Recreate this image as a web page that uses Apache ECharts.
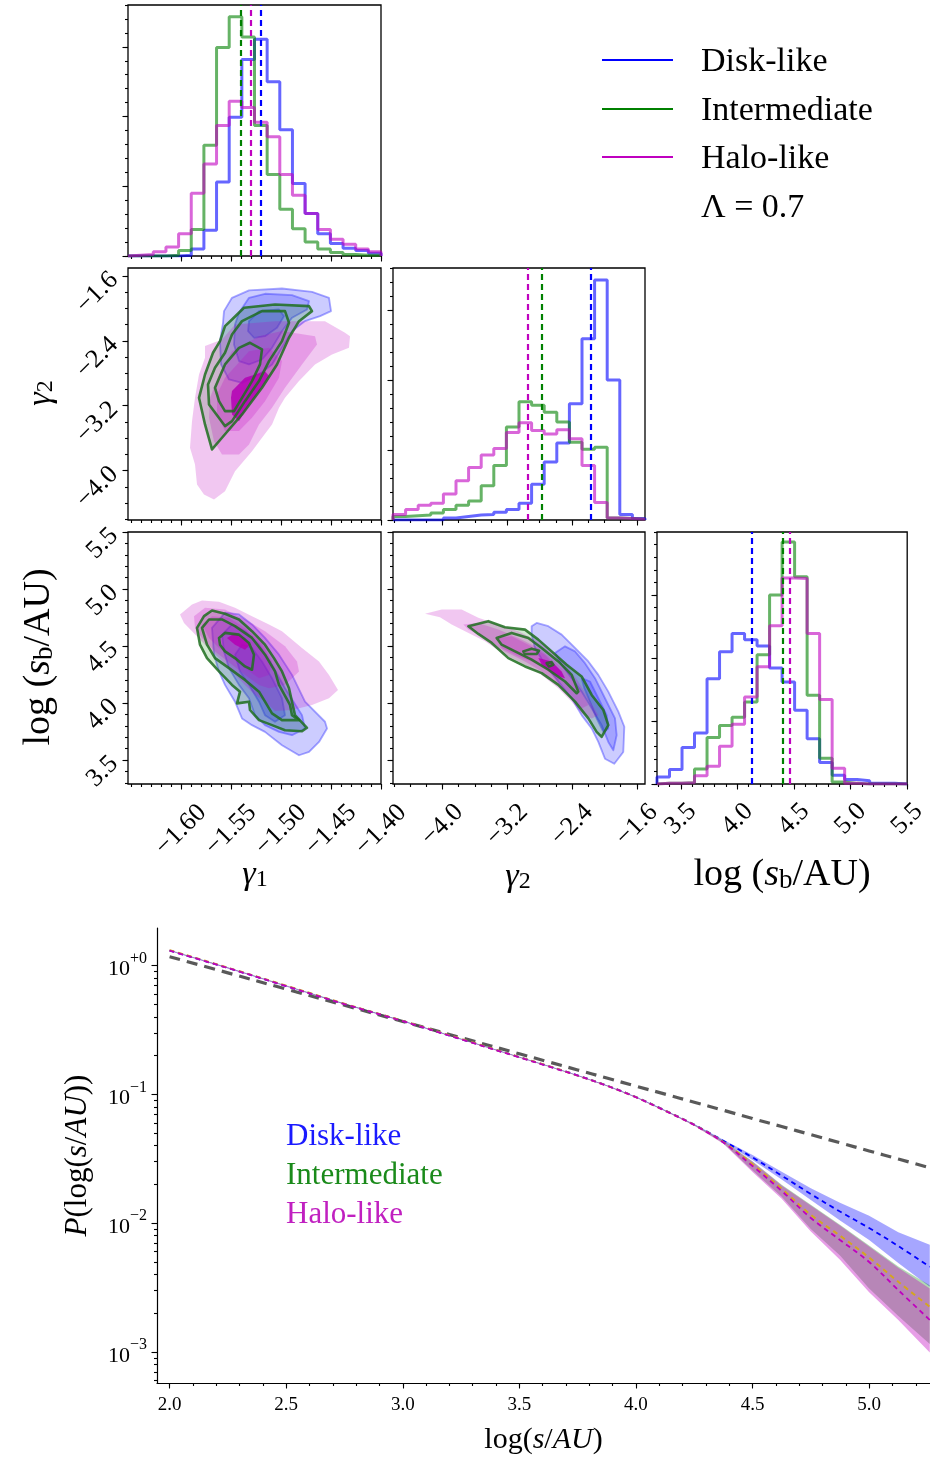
<!DOCTYPE html>
<html><head><meta charset="utf-8">
<script src="https://cdn.jsdelivr.net/npm/echarts@6/dist/echarts.min.js"></script>
<style>html,body{margin:0;padding:0;background:#fff}#c{width:930px;height:1458px}</style>
</head><body><div id="c"></div>
<script>
const FONT = '"Liberation Serif","DejaVu Serif",serif';
const BLUE = '#0000ff', GREEN = '#008000', MAG = '#bf00bf';
const MINUS = '\u2212';

// ---- axis ranges ----
const G1_RANGE = [-1.653, -1.40];
const G2_RANGE = [-4.61, -1.50];
const SB_RANGE = [3.29, 5.5];
const H_TOP_MAX = 3.6, H_MID_MAX = 3.6, H_SB_MAX = 4.0;

// ---- tick labels ----
const g1Ticks = [-1.60, -1.55, -1.50, -1.45, -1.40];
const g2Ticks = [-4.0, -3.2, -2.4, -1.6];
const sbTicks = [3.5, 4.0, 4.5, 5.0, 5.5];
const histTicks = [0, 1, 2, 3];

// ---- histograms (20 bins spanning axis range) ----
const histG1Blue  = [0,0,0,0,0.01,0.10,0.37,1.06,1.99,2.82,3.11,2.50,1.81,1.04,0.61,0.32,0.18,0.11,0.08,0.04];
const histG1Green = [0,0,0,0.01,0.08,0.38,1.59,2.99,3.43,3.14,1.87,1.17,0.67,0.39,0.20,0.10,0.05,0.02,0.01,0.01];
const histG1Mag   = [0.01,0.02,0.06,0.13,0.32,0.90,1.32,1.87,2.22,2.13,1.92,1.71,1.17,0.87,0.61,0.38,0.24,0.17,0.10,0.06];
const histG2Blue  = [0,0,0,0,0.03,0.05,0.07,0.08,0.11,0.15,0.24,0.51,0.83,1.10,1.66,2.59,3.43,2.00,0.08,0.02];
const histG2Green = [0.05,0.06,0.07,0.10,0.15,0.21,0.27,0.49,0.78,1.33,1.69,1.64,1.54,1.40,1.11,1.01,1.04,0.03,0.02,0.01];
const histG2Mag   = [0.08,0.15,0.21,0.24,0.37,0.56,0.75,0.93,1.02,1.25,1.39,1.28,1.23,1.29,1.16,0.78,0.25,0.03,0.02,0.01];
const histSbBlue  = [0.11,0.23,0.58,0.81,1.67,2.10,2.39,2.29,2.19,1.84,1.62,1.17,0.72,0.34,0.14,0.07,0.05,0.01,0.01,0];
const histSbGreen = [0.01,0.01,0.02,0.24,0.74,0.93,1.06,1.30,2.05,3.00,3.84,3.29,1.41,0.41,0.03,0.01,0,0,0,0];
const histSbMag   = [0.01,0.01,0.02,0.13,0.28,0.60,0.95,1.38,1.86,2.51,3.27,3.26,2.39,1.34,0.25,0.01,0,0,0,0];

// medians (dashed lines)
const medG1 = {blue: -1.5183, green: -1.539, mag: -1.5297};
const medG2 = {blue: -2.173, green: -2.776, mag: -2.952};
const medSb = {blue: 4.126, green: 4.397, mag: 4.455};

// ---- 2D contours: gamma1 vs gamma2 ----
const ggMag1 = [[-1.576,-2.464],[-1.559,-2.382],[-1.546,-2.197],[-1.506,-2.156],[-1.456,-2.156],[-1.436,-2.300],[-1.431,-2.341],[-1.432,-2.485],[-1.449,-2.567],[-1.466,-2.690],[-1.482,-2.896],[-1.496,-3.102],[-1.502,-3.225],[-1.509,-3.431],[-1.519,-3.595],[-1.529,-3.760],[-1.546,-4.007],[-1.556,-4.254],[-1.567,-4.356],[-1.577,-4.295],[-1.584,-4.171],[-1.586,-3.924],[-1.591,-3.719],[-1.589,-3.390],[-1.586,-3.102],[-1.582,-2.814],[-1.576,-2.608]];
const ggMag2 = [[-1.562,-2.814],[-1.549,-2.526],[-1.522,-2.341],[-1.499,-2.279],[-1.466,-2.341],[-1.464,-2.444],[-1.479,-2.690],[-1.496,-2.978],[-1.509,-3.225],[-1.522,-3.431],[-1.532,-3.678],[-1.542,-3.801],[-1.559,-3.801],[-1.567,-3.637],[-1.572,-3.349],[-1.571,-3.102]];
const ggMag3 = [[-1.556,-2.855],[-1.532,-2.526],[-1.512,-2.485],[-1.499,-2.649],[-1.502,-2.855],[-1.516,-3.143],[-1.529,-3.349],[-1.542,-3.513],[-1.556,-3.513],[-1.564,-3.307],[-1.564,-3.061]];
const ggMag4 = [[-1.549,-3.019],[-1.536,-2.855],[-1.516,-2.773],[-1.512,-2.834],[-1.522,-3.019],[-1.532,-3.184],[-1.542,-3.390],[-1.549,-3.307],[-1.550,-3.102]];
const ggBlue1 = [[-1.557,-2.032],[-1.549,-1.868],[-1.532,-1.777],[-1.499,-1.753],[-1.469,-1.794],[-1.452,-1.868],[-1.450,-2.032],[-1.461,-2.094],[-1.476,-2.156],[-1.489,-2.279],[-1.499,-2.485],[-1.509,-2.690],[-1.522,-2.814],[-1.539,-2.917],[-1.552,-2.876],[-1.560,-2.690],[-1.561,-2.402],[-1.558,-2.176]];
const ggBlue2 = [[-1.542,-2.053],[-1.532,-1.868],[-1.516,-1.818],[-1.489,-1.835],[-1.472,-1.909],[-1.474,-2.012],[-1.489,-2.115],[-1.499,-2.279],[-1.509,-2.485],[-1.519,-2.629],[-1.532,-2.690],[-1.542,-2.649],[-1.547,-2.444],[-1.546,-2.197]];
const ggBlue3 = [[-1.532,-2.156],[-1.522,-2.032],[-1.502,-2.012],[-1.497,-2.094],[-1.504,-2.238],[-1.516,-2.341],[-1.527,-2.361],[-1.533,-2.279]];
const ggGreen1 = [[-1.556,-2.217],[-1.549,-2.135],[-1.537,-1.991],[-1.506,-1.950],[-1.472,-1.971],[-1.469,-2.032],[-1.482,-2.156],[-1.492,-2.361],[-1.504,-2.690],[-1.519,-2.978],[-1.539,-3.307],[-1.559,-3.595],[-1.569,-3.739],[-1.576,-3.431],[-1.582,-3.102],[-1.576,-2.814],[-1.568,-2.546],[-1.561,-2.402]];
const ggGreen2 = [[-1.556,-3.451],[-1.572,-3.184],[-1.573,-2.937],[-1.566,-2.732],[-1.556,-2.546],[-1.549,-2.320],[-1.539,-2.156],[-1.519,-2.032],[-1.496,-2.032],[-1.492,-2.176],[-1.499,-2.402],[-1.512,-2.649],[-1.522,-2.896],[-1.536,-3.143],[-1.549,-3.390]];
const ggGreen3 = [[-1.566,-2.978],[-1.556,-2.690],[-1.542,-2.485],[-1.531,-2.423],[-1.519,-2.505],[-1.521,-2.690],[-1.529,-2.896],[-1.539,-3.102],[-1.547,-3.266],[-1.556,-3.266],[-1.562,-3.143]];

// ---- gamma1 vs log sb ----
const gsMag1 = [[-1.601,4.777],[-1.589,4.865],[-1.579,4.900],[-1.562,4.889],[-1.546,4.836],[-1.529,4.762],[-1.512,4.689],[-1.499,4.630],[-1.479,4.483],[-1.462,4.365],[-1.452,4.247],[-1.443,4.115],[-1.452,4.042],[-1.469,3.983],[-1.489,3.939],[-1.506,3.930],[-1.516,4.012],[-1.526,4.071],[-1.536,4.159],[-1.549,4.277],[-1.562,4.394],[-1.576,4.512],[-1.589,4.630],[-1.597,4.703]];
const gsMag2 = [[-1.587,4.762],[-1.576,4.836],[-1.556,4.821],[-1.536,4.733],[-1.516,4.630],[-1.496,4.497],[-1.484,4.365],[-1.482,4.277],[-1.496,4.159],[-1.512,4.130],[-1.522,4.159],[-1.536,4.247],[-1.549,4.336],[-1.566,4.453],[-1.579,4.571],[-1.586,4.659]];
const gsMag3 = [[-1.579,4.689],[-1.569,4.762],[-1.552,4.747],[-1.536,4.659],[-1.519,4.527],[-1.509,4.365],[-1.512,4.247],[-1.522,4.218],[-1.536,4.306],[-1.549,4.394],[-1.562,4.483],[-1.572,4.571]];
const gsMag4 = [[-1.554,4.571],[-1.546,4.615],[-1.536,4.571],[-1.531,4.512],[-1.536,4.468],[-1.546,4.512]];
const gsBlue1 = [[-1.569,4.659],[-1.556,4.792],[-1.542,4.777],[-1.529,4.689],[-1.516,4.571],[-1.502,4.424],[-1.489,4.247],[-1.476,4.012],[-1.456,3.836],[-1.454,3.777],[-1.462,3.659],[-1.472,3.571],[-1.482,3.542],[-1.499,3.630],[-1.516,3.747],[-1.529,3.806],[-1.539,3.865],[-1.546,4.012],[-1.556,4.159],[-1.562,4.277],[-1.567,4.424]];
const gsBlue2 = [[-1.559,4.600],[-1.549,4.689],[-1.536,4.630],[-1.522,4.512],[-1.509,4.336],[-1.496,4.130],[-1.479,3.894],[-1.476,3.777],[-1.489,3.718],[-1.502,3.747],[-1.516,3.806],[-1.526,3.894],[-1.532,4.042],[-1.542,4.159],[-1.552,4.306],[-1.557,4.453]];
const gsBlue3 = [[-1.546,4.424],[-1.539,4.512],[-1.529,4.483],[-1.519,4.365],[-1.509,4.218],[-1.499,4.042],[-1.496,3.894],[-1.506,3.836],[-1.516,3.894],[-1.522,4.012],[-1.532,4.159],[-1.541,4.277]];
const gsGreen1 = [[-1.584,4.659],[-1.577,4.762],[-1.569,4.812],[-1.556,4.783],[-1.542,4.733],[-1.529,4.630],[-1.516,4.512],[-1.507,4.394],[-1.499,4.277],[-1.492,4.130],[-1.489,4.012],[-1.486,3.894],[-1.474,3.783],[-1.479,3.753],[-1.496,3.762],[-1.509,3.806],[-1.522,3.850],[-1.531,3.939],[-1.532,4.012],[-1.544,3.997],[-1.541,4.100],[-1.549,4.159],[-1.562,4.277],[-1.574,4.394],[-1.581,4.512]];
const gsGreen2 = [[-1.579,4.659],[-1.572,4.733],[-1.559,4.733],[-1.546,4.674],[-1.529,4.571],[-1.516,4.424],[-1.506,4.277],[-1.502,4.159],[-1.491,3.983],[-1.489,3.894],[-1.482,3.850],[-1.499,3.850],[-1.509,3.909],[-1.516,4.012],[-1.522,4.100],[-1.536,4.203],[-1.552,4.306],[-1.566,4.394],[-1.574,4.512]];
const gsGreen3 = [[-1.562,4.571],[-1.556,4.615],[-1.542,4.600],[-1.532,4.527],[-1.527,4.424],[-1.529,4.292],[-1.536,4.321],[-1.546,4.394],[-1.556,4.453],[-1.561,4.512]];

// ---- gamma2 vs log sb ----
const tsMag1 = [[-4.215,4.783],[-4.009,4.821],[-3.763,4.821],[-3.557,4.747],[-3.310,4.689],[-3.063,4.630],[-2.817,4.542],[-2.611,4.424],[-2.446,4.306],[-2.323,4.189],[-2.199,4.042],[-2.076,3.894],[-2.158,3.865],[-2.282,3.909],[-2.405,4.012],[-2.570,4.130],[-2.775,4.247],[-2.981,4.336],[-3.228,4.424],[-3.475,4.542],[-3.721,4.630],[-3.886,4.689],[-4.030,4.753]];
const tsMag2 = [[-3.742,4.689],[-3.557,4.703],[-3.310,4.644],[-3.063,4.571],[-2.817,4.483],[-2.611,4.365],[-2.426,4.247],[-2.282,4.100],[-2.199,3.983],[-2.282,3.953],[-2.405,4.042],[-2.570,4.159],[-2.775,4.277],[-2.981,4.365],[-3.228,4.453],[-3.475,4.571],[-3.680,4.644]];
const tsMag3 = [[-3.310,4.571],[-3.146,4.586],[-2.940,4.512],[-2.734,4.424],[-2.570,4.306],[-2.487,4.218],[-2.570,4.203],[-2.734,4.306],[-2.899,4.365],[-3.063,4.409],[-3.269,4.483]];
const tsMag4 = [[-2.817,4.394],[-2.652,4.365],[-2.529,4.277],[-2.487,4.218],[-2.611,4.247],[-2.775,4.336]];
const tsBlue1 = [[-2.899,4.674],[-2.837,4.703],[-2.693,4.674],[-2.529,4.600],[-2.364,4.483],[-2.199,4.365],[-2.076,4.247],[-1.953,4.100],[-1.829,3.924],[-1.755,3.792],[-1.768,3.571],[-1.879,3.468],[-1.994,3.512],[-2.076,3.659],[-2.158,3.777],[-2.282,3.894],[-2.405,4.042],[-2.570,4.189],[-2.734,4.336],[-2.858,4.483],[-2.899,4.600]];
const tsBlue2 = [[-2.611,4.439],[-2.487,4.497],[-2.364,4.453],[-2.241,4.350],[-2.117,4.218],[-1.994,4.042],[-1.870,3.865],[-1.850,3.718],[-1.891,3.586],[-1.953,3.659],[-2.035,3.806],[-2.158,3.953],[-2.282,4.100],[-2.405,4.218],[-2.529,4.336]];
const tsBlue3 = [[-2.282,4.218],[-2.179,4.189],[-2.076,4.042],[-1.973,3.894],[-1.953,3.777],[-2.014,3.747],[-2.097,3.865],[-2.179,4.012],[-2.249,4.130]];
const tsGreen1 = [[-3.680,4.674],[-3.434,4.718],[-3.228,4.665],[-2.981,4.644],[-2.817,4.556],[-2.652,4.453],[-2.467,4.336],[-2.282,4.233],[-2.158,4.071],[-2.014,3.939],[-1.953,3.806],[-2.035,3.703],[-2.097,3.747],[-2.199,3.865],[-2.364,4.012],[-2.570,4.159],[-2.775,4.262],[-2.981,4.321],[-3.187,4.394],[-3.392,4.527],[-3.557,4.606]];
const tsGreen2 = [[-3.331,4.571],[-3.146,4.615],[-2.940,4.571],[-2.775,4.483],[-2.570,4.365],[-2.405,4.247],[-2.323,4.100],[-2.343,4.086],[-2.487,4.189],[-2.693,4.292],[-2.899,4.380],[-3.104,4.453],[-3.269,4.512]];
const tsGreen3 = [[-3.002,4.453],[-2.899,4.477],[-2.808,4.459],[-2.837,4.430],[-2.981,4.430]];
const tsGreen4 = [[-2.714,4.350],[-2.652,4.359],[-2.631,4.336],[-2.685,4.321]];

// ---- bottom panel: P(log s) ----
const sepX     = [2.0, 2.25, 2.5, 2.75, 3.0, 3.25, 3.5, 3.625, 3.75, 3.875, 4.0, 4.125, 4.25, 4.375, 4.5, 4.625, 4.75, 4.875, 5.0, 5.125, 5.26];
const powerLaw = [1.175, 0.880, 0.658, 0.493, 0.369, 0.276, 0.207, 0.179, 0.155, 0.134, 0.116, 0.1005, 0.087, 0.0753, 0.065, 0.0563, 0.0487, 0.0421, 0.0364, 0.0315, 0.0269];
const diskMid  = [1.31, 0.96, 0.695, 0.504, 0.372, 0.269, 0.195, 0.166, 0.1405, 0.1173, 0.0955, 0.0751, 0.0583, 0.0436, 0.0324, 0.0234, 0.01683, 0.0123, 0.00916, 0.00664, 0.00458];
const diskLo   = [1.30, 0.953, 0.690, 0.500, 0.369, 0.267, 0.1935, 0.1648, 0.1395, 0.1165, 0.0948, 0.0745, 0.0578, 0.0428, 0.0309, 0.0218, 0.0151, 0.0105, 0.0074, 0.0049, 0.0032];
const diskHi   = [1.32, 0.967, 0.700, 0.508, 0.375, 0.271, 0.1965, 0.1672, 0.1415, 0.1181, 0.0962, 0.0757, 0.0588, 0.0444, 0.0338, 0.0251, 0.0187, 0.0144, 0.0114, 0.0085, 0.0068];
const interMid = [1.32, 0.965, 0.700, 0.506, 0.373, 0.270, 0.195, 0.166, 0.140, 0.1170, 0.0952, 0.0748, 0.0580, 0.0427, 0.0287, 0.0185, 0.0116, 0.0080, 0.0054, 0.0035, 0.00224];
const interLo  = [1.31, 0.958, 0.695, 0.502, 0.370, 0.268, 0.1935, 0.1648, 0.1390, 0.1162, 0.0945, 0.0742, 0.0574, 0.0418, 0.0256, 0.0160, 0.0090, 0.0056, 0.0031, 0.0019, 0.00115];
const interHi  = [1.33, 0.972, 0.705, 0.510, 0.376, 0.272, 0.1965, 0.1672, 0.1410, 0.1178, 0.0959, 0.0754, 0.0586, 0.0436, 0.0303, 0.0199, 0.0139, 0.0097, 0.0067, 0.0046, 0.0033];
const haloMid  = [1.31, 0.96, 0.695, 0.503, 0.371, 0.268, 0.194, 0.165, 0.1400, 0.1168, 0.0950, 0.0746, 0.0578, 0.0423, 0.0278, 0.0178, 0.01096, 0.0074, 0.00499, 0.00302, 0.00177];
const haloLo   = [1.30, 0.953, 0.690, 0.499, 0.368, 0.266, 0.1925, 0.1638, 0.1390, 0.1160, 0.0943, 0.0740, 0.0572, 0.0414, 0.0250, 0.0155, 0.0086, 0.0052, 0.0029, 0.00177, 0.00099];
const haloHi   = [1.32, 0.967, 0.700, 0.507, 0.374, 0.270, 0.1955, 0.1662, 0.1410, 0.1176, 0.0957, 0.0752, 0.0584, 0.0432, 0.0300, 0.0196, 0.0137, 0.0096, 0.0066, 0.0045, 0.0031];
const sepXTicks = [2.0, 2.5, 3.0, 3.5, 4.0, 4.5, 5.0];
const sepYTicks = [0.001, 0.01, 0.1, 1];
const SEP_X_RANGE = [1.946, 5.261];
const SEP_Y_RANGE = [0.000573, 1.963];

// ---------- helpers ----------
function range(a, b, step) { const out = []; const n = Math.round((b - a) / step); for (let i = 0; i <= n; i++) out.push(+(a + i * step).toFixed(4)); return out; }
const fmtNum = d => v => (v < 0 ? MINUS : '') + Math.abs(v).toFixed(d);

const xAxes = [], yAxes = [];
function axis(gi, type, pos, min, max, ticks, len, label) {
  const a = {
    type: type, gridIndex: gi, position: pos, min: min, max: max,
    axisLine: {show: false, onZero: false}, splitLine: {show: false}, minorTick: {show: false},
    axisTick: {show: true, customValues: ticks, length: len, lineStyle: {color: '#000', width: 1.1}},
    axisLabel: label ? Object.assign({show: true, customValues: ticks, color: '#000', fontFamily: FONT}, label) : {show: false}
  };
  if (type === 'log') a.logBase = 10;
  return a;
}
function panel(gi, xr, xMaj, xMin, xLab, yr, yMaj, yMin, yLab, ytype) {
  xAxes.push(axis(gi, 'value', 'bottom', xr[0], xr[1], xMaj, 5.5, xLab));
  const xi = xAxes.length - 1;
  xAxes.push(axis(gi, 'value', 'bottom', xr[0], xr[1], xMin, 3, null));
  yAxes.push(axis(gi, ytype || 'value', 'left', yr[0], yr[1], yMaj, 5.5, yLab));
  const yi = yAxes.length - 1;
  yAxes.push(axis(gi, ytype || 'value', 'left', yr[0], yr[1], yMin, 3, null));
  return {xi: xi, yi: yi};
}

const g1Minor = range(-1.65, -1.40, 0.01);
const g2Minor = range(-4.6, -1.6, 0.2);
const sbMinor = range(3.3, 5.5, 0.1);
const hMinor36 = range(0, 3.6, 0.2);
const hMinor40 = range(0, 4.0, 0.2);

const xLabG1 = {formatter: fmtNum(2), rotate: 45, align: 'center', verticalAlign: 'middle', margin: 46, fontSize: 26};
const xLabG2 = {formatter: fmtNum(1), rotate: 45, align: 'center', verticalAlign: 'middle', margin: 41, fontSize: 26};
const xLabSb = {formatter: fmtNum(1), rotate: 45, align: 'center', verticalAlign: 'middle', margin: 35, fontSize: 26};
const yLabG2 = {formatter: fmtNum(1), rotate: 45, margin: 14, fontSize: 26};
const yLabSb = {formatter: fmtNum(1), rotate: 45, margin: 14, fontSize: 26};

const grids = [
  {left: 128, top: 5, width: 253, height: 251},
  {left: 128, top: 268, width: 253, height: 252},
  {left: 393, top: 268, width: 252, height: 252},
  {left: 128, top: 532, width: 253, height: 252},
  {left: 393, top: 532, width: 252, height: 252},
  {left: 657, top: 532, width: 251, height: 252},
  {left: 157, top: 928, width: 773, height: 455}
];

const P0 = panel(0, G1_RANGE, g1Ticks, g1Minor, null, [0, H_TOP_MAX], histTicks, hMinor36, null);
const P1 = panel(1, G1_RANGE, g1Ticks, g1Minor, null, G2_RANGE, g2Ticks, g2Minor, yLabG2);
const P2 = panel(2, G2_RANGE, g2Ticks, g2Minor, null, [0, H_MID_MAX], histTicks, hMinor36, null);
const P3 = panel(3, G1_RANGE, g1Ticks, g1Minor, xLabG1, SB_RANGE, sbTicks, sbMinor, yLabSb);
const P4 = panel(4, G2_RANGE, g2Ticks, g2Minor, xLabG2, SB_RANGE, sbTicks, sbMinor, null);
const P5 = panel(5, SB_RANGE, sbTicks, sbMinor, xLabSb, [0, H_SB_MAX], histTicks, hMinor40, null);

// bottom panel axes
const sepMinorX = range(2.0, 5.2, 0.1);
const sepMinorY = [];
[0.0001, 0.001, 0.01, 0.1, 1].forEach(d => { for (let k = 2; k <= 9; k++) sepMinorY.push(+(k * d).toPrecision(3)); });
const supFmt = v => { const e = Math.round(Math.log10(v)); return '{b|10}{s|' + (e === 0 ? '+0' : (e < 0 ? MINUS : '+') + Math.abs(e)) + '}'; };
const P6 = panel(6, SEP_X_RANGE, sepXTicks, sepMinorX,
  {formatter: v => v.toFixed(1), fontSize: 19, margin: 13},
  SEP_Y_RANGE, sepYTicks, sepMinorY,
  {formatter: supFmt, margin: 10, rich: {
    b: {fontSize: 22, fontFamily: FONT, color: '#000', lineHeight: 30, verticalAlign: 'bottom'},
    s: {fontSize: 16, fontFamily: FONT, color: '#000', lineHeight: 16, verticalAlign: 'top'}}},
  'log');
Object.assign(xAxes[P6.xi], {axisLine: {show: true, onZero: false, lineStyle: {color: '#000', width: 1.2}},
  name: '{r|log(}{i|s}{r|/}{i|AU}{r|)}', nameLocation: 'middle', nameGap: 42,
  nameTextStyle: {rich: {r: {fontSize: 30, fontFamily: FONT, color: '#000'}, i: {fontSize: 30, fontFamily: FONT, fontStyle: 'italic', color: '#000'}}}});
Object.assign(yAxes[P6.yi], {axisLine: {show: true, onZero: false, lineStyle: {color: '#000', width: 1.2}},
  name: '{i|P}{r|(log(}{i|s}{r|/}{i|AU}{r|))}', nameLocation: 'middle', nameGap: 64, nameRotate: 90,
  nameTextStyle: {rich: {r: {fontSize: 31, fontFamily: FONT, color: '#000'}, i: {fontSize: 31, fontFamily: FONT, fontStyle: 'italic', color: '#000'}}}});

// ---------- series ----------
const series = [];
function stepPts(r, h) {
  const w = (r[1] - r[0]) / h.length; const pts = [[r[0], 0]];
  h.forEach((v, i) => { pts.push([r[0] + i * w, v]); pts.push([r[0] + (i + 1) * w, v]); });
  pts.push([r[1], 0]); return pts;
}
function hist(P, r, h, color, med) {
  series.push({type: 'line', xAxisIndex: P.xi, yAxisIndex: P.yi, data: stepPts(r, h), symbol: 'none',
    lineStyle: {color: color, width: 3, opacity: 0.6}, silent: true, z: 3,
    markLine: {silent: true, symbol: ['none', 'none'], label: {show: false}, animation: false,
      lineStyle: {color: color, type: [6, 4], width: 2.2, opacity: 1}, data: [{xAxis: med}]}});
}
hist(P0, G1_RANGE, histG1Blue, BLUE, medG1.blue);
hist(P0, G1_RANGE, histG1Green, GREEN, medG1.green);
hist(P0, G1_RANGE, histG1Mag, MAG, medG1.mag);
hist(P2, G2_RANGE, histG2Blue, BLUE, medG2.blue);
hist(P2, G2_RANGE, histG2Green, GREEN, medG2.green);
hist(P2, G2_RANGE, histG2Mag, MAG, medG2.mag);
hist(P5, SB_RANGE, histSbBlue, BLUE, medSb.blue);
hist(P5, SB_RANGE, histSbGreen, GREEN, medSb.green);
hist(P5, SB_RANGE, histSbMag, MAG, medSb.mag);

function poly(P, pts, fill, stroke, lw, z, smooth) {
  series.push({type: 'custom', xAxisIndex: P.xi, yAxisIndex: P.yi, data: pts, silent: true, z: z || 2,
    renderItem: function (params, api) {
      if (params.dataIndex !== 0) return null;
      return {type: 'polygon', shape: {points: pts.map(p => api.coord(p)), smooth: smooth || 0},
        style: {fill: fill || 'none', stroke: stroke || 'none', lineWidth: lw || 0, lineJoin: 'round'}};
    }});
}
const BF = 'rgba(0,0,255,0.20)', BS = 'rgba(60,60,255,0.45)';
const MF = 'rgba(191,0,191,0.22)', MF4 = 'rgba(180,0,180,0.85)';
const GF = 'rgba(0,128,0,0.18)', GS = 'rgba(30,110,30,0.85)';
function contourSet(P, b, g, m) {
  b.forEach(p => poly(P, p, BF, BS, 1.8));
  poly(P, g[0], GF, null, 0);
  m.forEach((p, i) => poly(P, p, i === m.length - 1 ? MF4 : MF, null, 0));
  g.forEach(p => poly(P, p, null, GS, 2.6));
}
contourSet(P1, [ggBlue1, ggBlue2, ggBlue3], [ggGreen1, ggGreen2, ggGreen3], [ggMag1, ggMag2, ggMag3, ggMag4]);
contourSet(P3, [gsBlue1, gsBlue2, gsBlue3], [gsGreen1, gsGreen2, gsGreen3], [gsMag1, gsMag2, gsMag3, gsMag4]);
contourSet(P4, [tsBlue1, tsBlue2, tsBlue3], [tsGreen1, tsGreen2, tsGreen3, tsGreen4], [tsMag1, tsMag2, tsMag3, tsMag4]);

// bottom bands + lines
function band(lo, hi, fill) {
  const pts = sepX.map((x, i) => [x, hi[i]]).concat(sepX.map((x, i) => [x, lo[i]]).reverse());
  poly(P6, pts, fill, null, 0, 2);
}
band(diskLo, diskHi, 'rgba(0,0,255,0.35)');
band(interLo, interHi, 'rgba(0,128,0,0.30)');
band(haloLo, haloHi, 'rgba(191,0,191,0.38)');
function sepLine(vals, color, width, dash, opacity) {
  series.push({type: 'line', xAxisIndex: P6.xi, yAxisIndex: P6.yi, data: sepX.map((x, i) => [x, vals[i]]),
    symbol: 'none', smooth: 0.35, silent: true, z: 4,
    lineStyle: {color: color, width: width, type: dash, opacity: opacity}});
}
sepLine(powerLaw, '#3c3c3c', 3.2, [11, 7], 0.85);
sepLine(diskMid, BLUE, 1.8, [5, 4], 1);
sepLine(interMid, '#d4a520', 2, [5, 4], 1);
sepLine(haloMid, MAG, 1.8, [5, 4], 1);

// ---------- text / legend ----------
const txt = (x, y, text, size, color) => ({type: 'text', x: x, y: y, silent: true,
  style: {text: text, font: size + 'px ' + FONT, fill: color, verticalAlign: 'middle', align: 'left'}});
const richSub = size => ({
  g: {fontSize: size, fontFamily: FONT, fontStyle: 'italic', fill: '#000', lineHeight: size + 6, verticalAlign: 'bottom'},
  r: {fontSize: size, fontFamily: FONT, fill: '#000', lineHeight: size + 6, verticalAlign: 'bottom'},
  ri: {fontSize: size, fontFamily: FONT, fontStyle: 'italic', fill: '#000', lineHeight: size + 6, verticalAlign: 'bottom'},
  s: {fontSize: Math.round(size * 0.7), fontFamily: FONT, fill: '#000', lineHeight: Math.round(size * 0.5), verticalAlign: 'bottom'}
});
function richText(x, y, text, size, rot) {
  return {type: 'text', x: x, y: y, rotation: rot || 0, silent: true,
    style: {text: text, rich: richSub(size), fill: '#000', align: 'center', verticalAlign: 'middle', font: size + 'px ' + FONT}};
}
const graphic = [
  {type: 'line', shape: {x1: 602, y1: 60, x2: 673, y2: 60}, style: {stroke: BLUE, lineWidth: 2}},
  {type: 'line', shape: {x1: 602, y1: 109, x2: 673, y2: 109}, style: {stroke: GREEN, lineWidth: 2}},
  {type: 'line', shape: {x1: 602, y1: 157, x2: 673, y2: 157}, style: {stroke: MAG, lineWidth: 2}},
  txt(701, 62, 'Disk-like', 34, '#000'),
  txt(701, 111, 'Intermediate', 34, '#000'),
  txt(701, 159, 'Halo-like', 34, '#000'),
  txt(701, 208, '\u039B = 0.7', 34, '#000'),
  txt(286, 1137, 'Disk-like', 31, '#1a1aff'),
  txt(286, 1176, 'Intermediate', 31, '#1a8a1a'),
  txt(286, 1215, 'Halo-like', 31, '#c020c0'),
  richText(255, 872, '{g|\u03B3}{s|1}', 34),
  richText(518, 874, '{g|\u03B3}{s|2}', 34),
  richText(782, 872, '{r|log (}{ri|s}{s|b}{r|/AU)}', 38),
  richText(38, 393, '{g|\u03B3}{s|2}', 34, Math.PI / 2),
  richText(36, 657, '{r|log (}{ri|s}{s|b}{r|/AU)}', 38, Math.PI / 2)
];

const option = {
  animation: false,
  backgroundColor: '#fff',
  grid: grids.map((g, i) => Object.assign({show: i < 6, borderColor: '#000', borderWidth: 1.3, backgroundColor: 'rgba(0,0,0,0)'}, g)),
  xAxis: xAxes, yAxis: yAxes, series: series, graphic: graphic
};
const chart = echarts.init(document.getElementById('c'), null, {renderer: 'canvas'});
chart.setOption(option);
</script></body></html>
